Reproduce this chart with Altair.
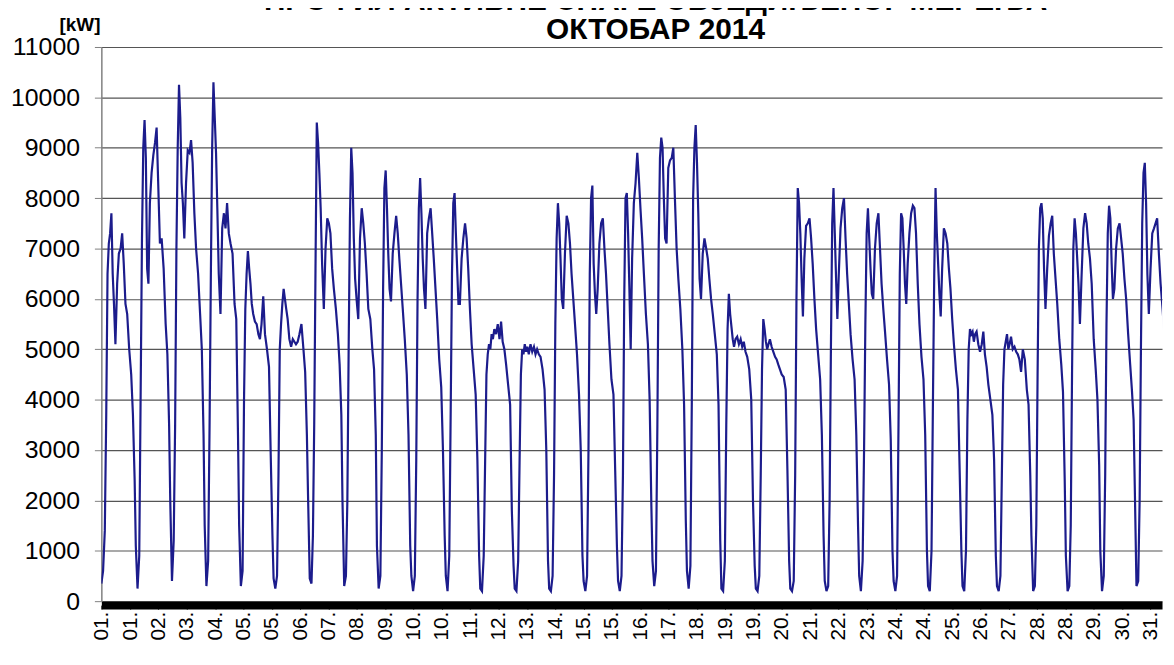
import json
import altair as alt
import pandas as pd

# ---- chart texts -------------------------------------------------------
TITLE_LINES = ["ПРОФИЛ АКТИВНЕ СНАГЕ ОБЈЕДИЊЕНОГ МЕРЕЊА", "ОКТОБАР 2014"]
Y_TITLE = "[kW]"

# x-axis category labels (every 79th quarter-hour of the month)
X_LABELS = ["01.", "01.", "02.", "03.", "04.", "05.", "05.", "06.", "07.", "08.",
            "09.", "10.", "10.", "11.", "12.", "13.", "14.", "15.", "15.", "16.",
            "17.", "18.", "19.", "19.", "20.", "21.", "22.", "23.", "24.", "24.",
            "25.", "26.", "27.", "28.", "28.", "29.", "30.", "31."]
TICK_HOURS = [round(0.25 + 19.75 * k, 2) for k in range(len(X_LABELS))]

Y_TICKS = list(range(0, 11001, 1000))

# ---- readings: hour of the day at which each value was read -------------
HOURS_IN_DAY = [0.0, 1.2, 2.4, 3.4, 4.3, 5.2, 6.1, 7.0, 7.9, 8.8, 9.8,
                11.0, 12.2, 13.4, 14.5, 15.6, 16.8, 18.0, 19.4, 20.8, 22.0, 23.2]

# ---- active power [kW], one list per day -------------------------------
OCT01 = [350, 600, 1400, 3700, 6500, 7100, 7300, 7700, 6500, 5900, 5100, 6300, 6900, 7000, 7300, 6700, 5900, 5700, 5000, 4500, 3700, 2400]
OCT02 = [1100, 250, 900, 4200, 7200, 9000, 9550, 8800, 6600, 6300, 7900, 8500, 8850, 9100, 9400, 8300, 7100, 7200, 6600, 5500, 4900, 3500]
OCT03 = [2000, 400, 1200, 3500, 7000, 9000, 10250, 9600, 8300, 7900, 7200, 8300, 8950, 8900, 9150, 8700, 7700, 7000, 6500, 5700, 5000, 3300]
OCT04 = [1500, 300, 800, 3500, 6500, 9000, 10300, 9600, 8900, 7800, 6500, 5700, 7400, 7700, 7400, 7900, 7300, 7100, 6900, 5900, 5600, 3300]
OCT05 = [1500, 300, 600, 4000, 5800, 6500, 6950, 6600, 6300, 5900, 5700, 5550, 5500, 5300, 5200, 5500, 6050, 5300, 5000, 4650, 2900, 1300]
OCT06 = [450, 250, 500, 2500, 5000, 5500, 5900, 6200, 6000, 5800, 5600, 5200, 5050, 5200, 5150, 5100, 5150, 5300, 5500, 5000, 4550, 3300]
OCT07 = [2100, 450, 350, 1300, 3500, 6600, 9500, 9100, 8500, 7800, 6700, 5800, 7000, 7600, 7500, 7300, 6600, 6200, 5800, 5300, 4700, 3700]
OCT08 = [2000, 300, 500, 2000, 5000, 7600, 9000, 8500, 7200, 6400, 6000, 5600, 7200, 7800, 7500, 7100, 6500, 5800, 5600, 5000, 4600, 3300]
OCT09 = [1100, 250, 500, 3000, 6200, 8200, 8550, 7800, 6900, 6200, 5950, 6900, 7300, 7650, 7300, 6800, 6300, 5800, 5200, 4500, 3300, 1100]
OCT10 = [500, 200, 500, 2800, 6000, 7800, 8400, 7700, 6800, 6200, 5800, 7300, 7600, 7800, 7300, 6800, 6200, 5600, 4800, 4250, 3000, 1300]
OCT11 = [500, 200, 900, 3800, 6500, 7900, 8100, 7300, 6600, 5900, 5900, 6800, 7200, 7500, 7200, 6600, 5800, 5100, 4600, 4100, 2800, 900]
OCT12 = [250, 200, 900, 2800, 4500, 4900, 5100, 5000, 5300, 5200, 5400, 5300, 5500, 5200, 5550, 5150, 5000, 4700, 4300, 3900, 1800, 700]
OCT13 = [250, 200, 800, 2800, 4500, 5000, 4900, 5100, 4950, 5050, 4900, 5100, 4950, 5050, 4900, 5000, 4900, 4850, 4600, 4200, 3000, 800]
OCT14 = [250, 200, 500, 2500, 5500, 7200, 7900, 7500, 6800, 6000, 5800, 6900, 7650, 7500, 7100, 6500, 6000, 5500, 4900, 4100, 3000, 900]
OCT15 = [400, 200, 500, 3000, 6500, 8000, 8250, 6700, 6100, 5700, 6200, 7100, 7500, 7600, 7000, 6500, 5800, 5100, 4400, 4100, 2600, 1100]
OCT16 = [400, 200, 500, 2500, 6000, 8000, 8100, 7300, 6200, 5000, 6800, 7900, 8300, 8900, 8400, 7800, 7200, 6500, 5700, 5100, 4000, 1900]
OCT17 = [800, 300, 600, 3500, 7000, 8800, 9200, 9000, 8000, 7200, 7100, 8600, 8750, 8800, 9000, 8000, 7000, 6400, 5800, 5000, 3900, 1600]
OCT18 = [600, 250, 700, 4000, 8000, 9000, 9450, 8700, 7700, 6400, 6000, 6900, 7200, 7000, 6800, 6400, 6000, 5700, 5300, 4900, 3900, 1200]
OCT19 = [250, 200, 800, 3500, 5400, 6100, 5700, 5450, 5200, 5050, 5200, 5250, 5100, 5200, 5050, 5150, 4950, 4850, 4600, 4000, 2000, 700]
OCT20 = [250, 200, 500, 2500, 4600, 5600, 5400, 5150, 5000, 5100, 5200, 5050, 4950, 4850, 4800, 4700, 4600, 4500, 4450, 4200, 2600, 800]
OCT21 = [250, 200, 400, 2500, 6000, 8200, 7900, 7300, 6400, 5650, 6800, 7450, 7500, 7600, 7200, 6700, 6000, 5400, 4900, 4400, 3300, 1300]
OCT22 = [400, 200, 300, 2000, 5000, 7500, 8200, 7300, 6400, 5600, 6500, 7400, 7800, 8000, 7200, 6500, 5900, 5300, 4800, 4400, 3300, 1500]
OCT23 = [500, 200, 800, 3000, 5500, 7300, 7800, 7200, 6600, 6100, 6000, 7000, 7500, 7700, 7000, 6300, 5800, 5350, 4800, 4300, 3200, 1000]
OCT24 = [400, 200, 500, 3500, 6500, 7700, 7600, 7000, 6300, 5900, 6700, 7300, 7700, 7850, 7800, 7300, 6300, 5500, 4850, 4400, 3300, 1000]
OCT25 = [300, 200, 1000, 4000, 6500, 8200, 7300, 6700, 6100, 5650, 6600, 7400, 7300, 7100, 6600, 6200, 5600, 5100, 4600, 4200, 2600, 1000]
OCT26 = [300, 200, 1000, 3600, 5000, 5400, 5300, 5350, 5150, 5300, 5350, 5100, 4950, 5100, 5350, 4900, 4650, 4300, 4000, 3700, 2800, 900]
OCT27 = [300, 200, 500, 2500, 4300, 5000, 5150, 5300, 5000, 5100, 5250, 5000, 5050, 4950, 4900, 4800, 4550, 5000, 4800, 4200, 3900, 2500]
OCT28 = [1300, 200, 300, 1500, 4500, 7000, 7800, 7900, 7600, 6600, 5800, 6600, 7250, 7500, 7650, 6900, 6400, 5900, 5200, 4700, 4150, 2400]
OCT29 = [900, 200, 300, 1500, 4500, 7000, 7600, 7300, 6800, 6300, 5500, 6500, 7400, 7700, 7500, 7100, 6800, 6300, 5200, 4600, 4000, 2700]
OCT30 = [1000, 200, 500, 2500, 5500, 7300, 7850, 7600, 6700, 6000, 6200, 7000, 7400, 7500, 7200, 6900, 6400, 6000, 5300, 4700, 4200, 3600]
OCT31 = [2300, 300, 400, 2000, 5000, 7500, 8500, 8700, 7900, 6500, 5700, 6600, 7300, 7400, 7500, 7600, 6900, 6300, 5800, 5200, 4500, 3500]

DAYS = [OCT01, OCT02, OCT03, OCT04, OCT05, OCT06, OCT07, OCT08, OCT09, OCT10,
        OCT11, OCT12, OCT13, OCT14, OCT15, OCT16, OCT17, OCT18, OCT19, OCT20,
        OCT21, OCT22, OCT23, OCT24, OCT25, OCT26, OCT27, OCT28, OCT29, OCT30, OCT31]

rows = []
for d, vals in enumerate(DAYS):
    for h, v in zip(HOURS_IN_DAY, vals):
        rows.append({"t": d * 24 + h, "kw": v})
df = pd.DataFrame(rows)

label_expr = f"{json.dumps(X_LABELS)}[indexof({json.dumps(TICK_HOURS)}, datum.value)]"

FONT = "Liberation Sans"

chart = (
    alt.Chart(df)
    .mark_line(color="#1c1c8c", strokeWidth=2.2, clip=True)
    .encode(
        x=alt.X(
            "t:Q",
            scale=alt.Scale(domain=[0, 739], nice=False, zero=False),
            axis=alt.Axis(
                values=TICK_HOURS, labelExpr=label_expr, title=None,
                labelAngle=270, labelAlign="right", labelBaseline="middle",
                labelFontSize=21, labelFont=FONT, labelColor="black",
                labelPadding=2, labelOverlap=False, labelFlush=False,
                tickSize=4, tickColor="black", tickWidth=1,
                domainColor="black", domainWidth=8, offset=4, grid=False,
            ),
        ),
        y=alt.Y(
            "kw:Q",
            scale=alt.Scale(domain=[0, 11000], nice=False),
            axis=alt.Axis(
                values=Y_TICKS, format="d", title=Y_TITLE,
                titleAngle=0, titleX=-22, titleY=-17, titleAlign="center",
                titleBaseline="alphabetic", titleFontSize=19, titleFont=FONT,
                titleFontWeight="bold", titleColor="black",
                labelFontSize=25, labelFont=FONT, labelColor="black",
                labelPadding=15, labelOverlap=False,
                tickSize=7, tickColor="#808080",
                domainColor="#808080", domainWidth=1.5,
                gridColor="#555555", gridWidth=1.2,
            ),
        ),
    )
    .properties(
        width=1068,
        height=558,
        title=alt.TitleParams(
            text=TITLE_LINES, fontSize=30, font=FONT, fontWeight="bold",
            color="black", anchor="middle", frame="group", dx=24,
            offset=-60, baseline="bottom", lineHeight=29,
        ),
        autosize=alt.AutoSizeParams(type="none"),
        padding={"left": 94, "top": 37, "right": 4, "bottom": 60},
    )
    .configure_view(stroke=None)
)

chart.save("out.html", embed_options={"renderer": "svg", "actions": False})
